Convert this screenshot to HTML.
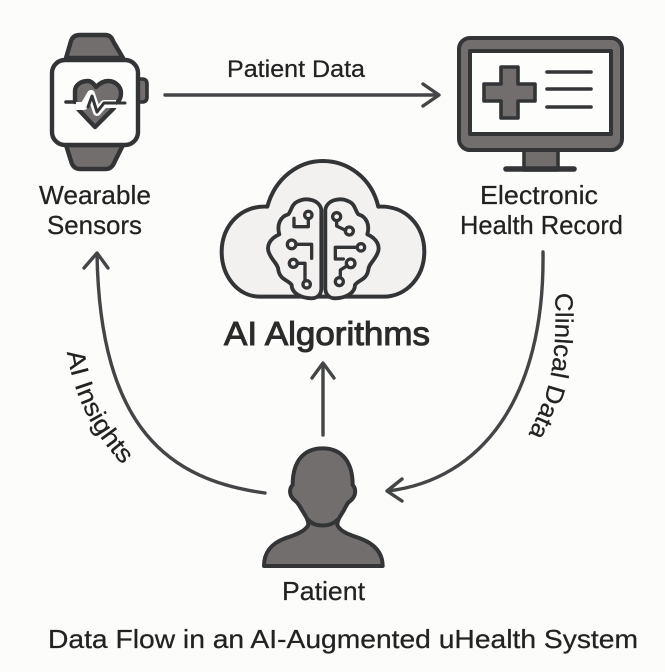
<!DOCTYPE html>
<html>
<head>
<meta charset="utf-8">
<style>
html,body{margin:0;padding:0;background:#fcfcfb;width:665px;height:672px;overflow:hidden}
svg{display:block}
text{font-family:"Liberation Sans",sans-serif;fill:#222;stroke:#222;stroke-width:.25}
</style>
</head>
<body>
<svg width="665" height="672" viewBox="0 0 665 672" xmlns="http://www.w3.org/2000/svg">
<rect width="665" height="672" fill="#fcfcfb"/>

<!-- Watch -->
<g stroke="#333436" stroke-width="4.4" stroke-linejoin="round" stroke-linecap="round">
  <path d="M66,58 L71,41 Q73,35 80,35 H105 Q111,35 113,41 L123,58 Z" fill="#736e6e"/>
  <path d="M66,145 L71,161 Q73,169 80,169 H106 Q112,169 115,161 L123,145 Z" fill="#736e6e"/>
  <path d="M138,79 H142 Q147,79 147,84 V97 Q147,102 142,102 H138 Z" fill="#736e6e" stroke-width="3.6"/>
  <rect x="52" y="60" width="86" height="85" rx="13" fill="#fdfdfc"/>
  <path d="M95,128 L76,108 V92 C76,85 81,81 88,81 C91,81 94,84 96,87 C99,84 103,81 108,81 C116,81 121,87 121,93 C121,99 118,103 115,107 Z" fill="#736e6e" stroke="none"/>
  <path d="M75,102 V91 C75,85 81,81 88,81 C91,81 94,84 96,87 C99,84 103,81 108,81 C116,81 121,87 121,93 C121,97 120,99 118,102" fill="none" stroke-width="4.4"/>
  <path d="M78,109 L95,127 L114,108" fill="none" stroke-width="4.4"/>
  <path d="M66,102 H75" fill="none" stroke-width="3.6"/>
  <path d="M76,106 H84 L91,94 L97,112 L104,104 H116" fill="none" stroke="#fdfdfc" stroke-width="8" stroke-linecap="butt"/>
  <path d="M88,107 L92,96 L97,112 L104,103 H125" fill="none" stroke-width="3"/>
</g>

<!-- Monitor -->
<g stroke="#333436" stroke-linejoin="round" stroke-linecap="round">
  <rect x="524" y="150" width="34" height="20" fill="#736e6e" stroke-width="3.6"/>
  <rect x="504" y="167" width="72" height="4" rx="2" fill="#333436" stroke-width="1.6"/>
  <rect x="459" y="38" width="163" height="112" rx="11" fill="#736e6e" stroke-width="4"/>
  <rect x="470" y="51" width="141" height="83" fill="#fdfdfc" stroke-width="4"/>
  <path d="M501,67 H518 V84 H535 V101 H518 V118 H501 V101 H484 V84 H501 Z" fill="#736e6e" stroke-width="3.6"/>
  <path d="M547,72 H591 M547,89 H591 M547,107 H591" fill="none" stroke-width="3.6"/>
</g>

<!-- Cloud + Brain -->
<g transform="translate(210,155) scale(.3333)" stroke="#333436" stroke-linejoin="round" stroke-linecap="round" fill="none">
  <path d="M205,425 H150 C85,425 35,365 35,290 C35,210 95,150 172,155 C195,70 265,18 338,18 C415,18 485,70 505,155 C585,150 643,210 643,290 C643,365 590,425 520,425 Z" fill="#f2f1f0" stroke-width="12"/>
  <g stroke-width="11.5" fill="#f2f1f0">
    <path d="M334,165 C330,135 290,125 262,140 C245,148 245,165 235,178 C210,185 200,210 208,238 C180,250 165,275 180,300 C190,320 205,330 205,345 C210,375 235,375 245,390 C245,415 275,430 305,430 C325,430 334,415 334,400 Z"/>
    <path d="M346,165 C350,135 390,125 418,140 C435,148 435,165 445,178 C470,185 480,210 472,238 C500,250 515,275 500,300 C490,320 475,330 475,345 C470,375 445,375 435,390 C435,415 405,430 375,430 C355,430 346,415 346,400 Z"/>
  </g>
  <g stroke-width="10">
    <circle cx="295" cy="180" r="11"/>
    <path d="M295,191 V215 H252 V190"/>
    <circle cx="245" cy="268" r="13"/>
    <path d="M258,268 H305 V310"/>
    <circle cx="250" cy="325" r="12"/>
    <path d="M262,325 H285 V377"/>
    <circle cx="290" cy="388" r="11"/>
    <circle cx="380" cy="185" r="12"/>
    <path d="M380,197 V213 L407,226"/>
    <circle cx="418" cy="228" r="12"/>
    <circle cx="453" cy="277" r="11"/>
    <path d="M442,277 H376 V312 H400"/>
    <circle cx="422" cy="325" r="13"/>
    <path d="M412,332 L391,345 V368"/>
    <circle cx="388" cy="380" r="12"/>
  </g>
</g>

<!-- Person -->
<g transform="translate(240,430) scale(.3333)" stroke="#333436" stroke-width="12" stroke-linejoin="round" stroke-linecap="round">
  <path d="M248,55 C190,55 158,95 158,165 C148,175 145,195 165,212 C175,218 180,232 190,247 C198,260 205,270 205,285 C195,305 165,315 135,325 C95,340 72,365 72,408 H428 C428,365 400,340 360,325 C330,315 300,305 292,285 C292,270 300,260 308,247 C318,232 320,218 332,212 C350,195 348,175 338,165 C338,95 305,55 248,55 Z" fill="#736e6e"/>
  <path d="M205,270 C225,292 270,292 292,270" fill="none"/>
</g>

<!-- Arrows -->
<g fill="none" stroke="#444546" stroke-width="3.4" stroke-linecap="round" stroke-linejoin="round">
  <path d="M165,95 H438"/>
  <path d="M423,84 L439,95 L423,106"/>
  <path d="M265,493 C170,480 100,430 97,254"/>
  <path d="M84,268 L97,253 L108,268"/>
  <path d="M543,252 C545,400 480,480 388,491"/>
  <path d="M402,479 L387,491 L402,501"/>
  <path d="M323,435 V364"/>
  <path d="M312,378 L323,363 L334,378"/>
</g>

<!-- Text -->
<text x="227" y="77" font-size="24" textLength="138" lengthAdjust="spacingAndGlyphs">Patient Data</text>
<text x="39" y="204" font-size="26" textLength="112" lengthAdjust="spacingAndGlyphs">Wearable</text>
<text x="47" y="234" font-size="26" textLength="95" lengthAdjust="spacingAndGlyphs">Sensors</text>
<text x="480" y="204" font-size="26" textLength="118" lengthAdjust="spacingAndGlyphs">Electronic</text>
<text x="460" y="234" font-size="26" textLength="163" lengthAdjust="spacingAndGlyphs">Health Record</text>
<text x="224" y="345" font-size="33" textLength="206" lengthAdjust="spacingAndGlyphs" style="fill:#2b2b2b;stroke:#2b2b2b;stroke-width:1">AI Algorithms</text>
<text x="282" y="600" font-size="26" textLength="83" lengthAdjust="spacingAndGlyphs">Patient</text>
<text x="48" y="648" font-size="26" textLength="590" lengthAdjust="spacingAndGlyphs">Data Flow in an AI-Augmented uHealth System</text>

<defs>
  <path id="pl" d="M67,352 C74,395 90,430 124,466"/>
  <path id="pr" d="M555,293 C557,340 553,370 547,390 C543,405 535,420 527,438"/>
</defs>
<text font-size="25"><textPath href="#pl" textLength="128" lengthAdjust="spacingAndGlyphs">AI Insights</textPath></text>
<text font-size="25"><textPath href="#pr" textLength="146" lengthAdjust="spacingAndGlyphs">Clinlcal Data</textPath></text>
</svg>
</body>
</html>
